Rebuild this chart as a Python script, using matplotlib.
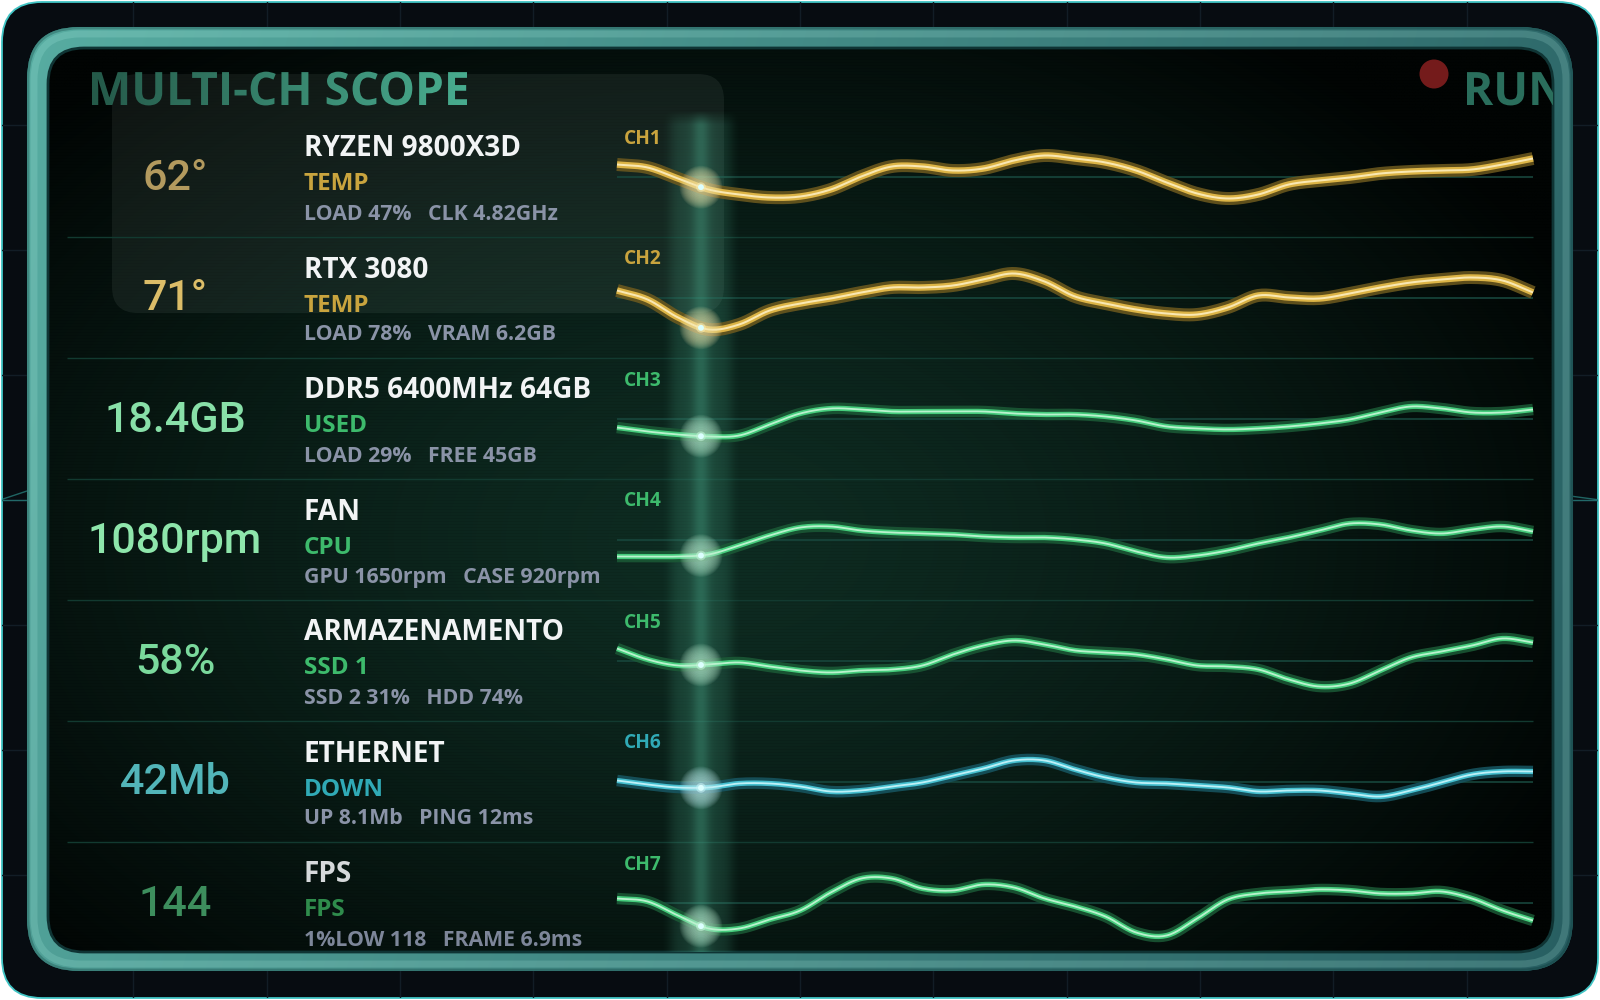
import numpy as np
import matplotlib
matplotlib.use("Agg")
import matplotlib.pyplot as plt
from matplotlib.patches import FancyBboxPatch, PathPatch, Circle
from matplotlib.textpath import TextPath
from matplotlib.font_manager import FontProperties
from matplotlib.transforms import Affine2D
from matplotlib.collections import LineCollection
from matplotlib.colors import to_rgb

# ---------------- data ----------------
TITLE = "MULTI-CH SCOPE"
STATUS = "RUN"
CHANNELS = ["CH1", "CH2", "CH3", "CH4", "CH5", "CH6", "CH7"]
READINGS = ["62°", "71°", "18.4GB", "1080rpm", "58%", "42Mb", "144"]
DEVICES = ["RYZEN 9800X3D", "RTX 3080", "DDR5 6400MHz 64GB", "FAN",
           "ARMAZENAMENTO", "ETHERNET", "FPS"]
METRICS = ["TEMP", "TEMP", "USED", "CPU", "SSD 1", "DOWN", "FPS"]
DETAIL_A = ["LOAD 47%", "LOAD 78%", "LOAD 29%", "GPU 1650rpm",
            "SSD 2 31%", "UP 8.1Mb", "1%LOW 118"]
DETAIL_B = ["CLK 4.82GHz", "VRAM 6.2GB", "FREE 45GB", "CASE 920rpm",
            "HDD 74%", "PING 12ms", "FRAME 6.9ms"]
PALETTE = ["gold", "gold", "green", "green", "green", "cyan", "green"]

# waveform samples (31 equally spaced time steps, deviation from channel baseline)
CH1 = [12, 9, -2, -13, -18, -21, -20, -13, 0, 10, 10, 6, 8, 16, 21, 18,
       14, 6, -6, -17, -22, -18, -8, -4, -1, 3, 5, 6, 7, 12, 18]
CH2 = [7, -2, -20, -32, -27, -13, -6, -1, 5, 10, 10, 12, 18, 24, 16, 1,
       -6, -12, -16, -17, -10, 2, 0, -1, 4, 10, 15, 18, 20, 17, 5]
CH3 = [-9, -13, -16, -18, -17, -6, 5, 10, 9, 7, 7, 7, 7, 5, 4, 4,
       2, -2, -8, -10, -11, -10, -8, -5, -1, 6, 12, 10, 6, 6, 9]
CH4 = [-17, -17, -17, -15, -6, 4, 12, 13, 9, 7, 6, 5, 3, 2, 2, 0,
       -4, -12, -18, -16, -11, -4, 2, 9, 16, 15, 9, 6, 10, 13, 8]
CH5 = [12, 1, -5, -4, -2, -6, -10, -12, -10, -9, -5, 6, 15, 20, 16, 10,
       8, 6, 1, -5, -6, -9, -19, -26, -23, -10, 3, 9, 15, 22, 18]
CH6 = [1, -3, -6, -6, -2, -2, -5, -10, -9, -5, -1, 6, 13, 21, 21, 12,
       4, -1, -2, -4, -6, -10, -9, -9, -12, -15, -9, -1, 7, 10, 10]
CH7 = [4, 1, -13, -26, -26, -17, -8, 10, 24, 24, 14, 12, 18, 15, 4, -4,
       -14, -30, -33, -16, 3, 9, 11, 13, 12, 9, 9, 11, 4, -8, -18]
TRACES = [CH1, CH2, CH3, CH4, CH5, CH6, CH7]
CURSOR_T = 2.75

# ---------------- style ----------------
W, H = 1600, 1000
ROW_TOP, ROW_H = 116, 121
TX0, TX1 = 617, 1533
STYLE = {
    "gold":  dict(outer="#6e5a1e", main="#dcb446", core="#fdeec0", glow="#f6eab0", label="#c9a43e", w=(13, 6.5, 2.0)),
    "green": dict(outer="#1b5a36", main="#45cc7c", core="#c8f7d8", glow="#c4f4d8", label="#3dba6c", w=(11.5, 5.2, 1.8)),
    "cyan":  dict(outer="#175662", main="#45bfcf", core="#ccf6fb", glow="#c8f4f8", label="#30aab6", w=(11.5, 5.2, 1.8)),
}
VALUE_COLORS = ["#b39a5e", "#dcbd68", "#88e0a8", "#8ee6ab", "#7ad99c", "#52b5b9", "#3d8e5d"]
METRIC_COLORS = ["#c9a43e", "#c9a43e", "#3dba6c", "#3dba6c", "#3dba6c", "#30aab6", "#2f8c4c"]
NAME_COLORS = ["#f2f4f5"] * 6 + ["#d6d9db"]
DETAIL_COLORS = ["#8a93a7"] * 6 + ["#7d8699"]

LABEL_FONT = "Open Sans"
VALUE_FONT = "Roboto"
plt.rcParams["font.family"] = [LABEL_FONT, "DejaVu Sans"]

fig = plt.figure(figsize=(16, 10), dpi=100, facecolor="white")
ax = fig.add_axes([0, 0, 1, 1])
ax.set_xlim(0, W)
ax.set_ylim(H, 0)
ax.axis("off")


def rrect(x0, y0, x1, y1, r, **kw):
    return FancyBboxPatch((x0, y0), x1 - x0, y1 - y0,
                          boxstyle=f"round,pad=0,rounding_size={r}", **kw)


def grad_image(func, x0, x1, y0, y1, res, clip, z, interp="bilinear"):
    nx = max(2, int((x1 - x0) / res))
    ny = max(2, int((y1 - y0) / res))
    X, Y = np.meshgrid(np.linspace(x0, x1, nx), np.linspace(y0, y1, ny))
    img = func(X, Y)
    im = ax.imshow(img, extent=(x0, x1, y1, y0), origin="upper",
                   interpolation=interp, zorder=z, aspect="auto")
    if clip is not None:
        im.set_clip_path(clip)
    return im


def lerp_col(c0, c1, t):
    c0 = np.array(to_rgb(c0)); c1 = np.array(to_rgb(c1))
    t = np.clip(t, 0, 1)[..., None]
    return c0 * (1 - t) + c1 * t


# ---------------- outer card ----------------
card = rrect(2, 2, 1598, 998, 40, facecolor="#070c11", edgecolor="#40c4c4", lw=1.3, zorder=1)
ax.add_patch(card)
grid = []
for k in range(1, 12):
    x = k * W / 12
    grid.append([(x, 0), (x, H)])
for k in range(1, 8):
    y = k * H / 8
    grid.append([(0, y), (W, y)])
lc = LineCollection(grid, colors="#121d26", linewidths=1.0, zorder=1.2)
lc.set_clip_path(card)
ax.add_collection(lc)
deco = LineCollection([[(0, 500), (40, 500)], [(0, 500), (60, 480)],
                       [(1560, 500), (1600, 500)], [(1540, 492), (1600, 500)]],
                      colors="#2a8a86", linewidths=1.0, alpha=0.7, zorder=1.3)
deco.set_clip_path(card)
ax.add_collection(deco)

# ---------------- bezel ----------------
bez = rrect(27, 27, 1573, 971, 52, facecolor="#3a8a85", edgecolor="none", zorder=2)
ax.add_patch(bez)


def bezel_col(X, Y):
    t = (X - 27) / 1546 * 0.85 + (Y - 27) / 944 * 0.15
    return lerp_col("#57aca1", "#285f62", t)


grad_image(bezel_col, 27, 1573, 27, 971, 8, bez, 2.1)
ring = rrect(34, 34, 1566, 964, 46, facecolor="none", edgecolor=(0.75, 1, 0.95, 0.16), lw=5, zorder=2.2)
ax.add_patch(ring)
ring2 = rrect(28, 28, 1572, 970, 51, facecolor="none", edgecolor=(0, 0.15, 0.15, 0.25), lw=2, zorder=2.2)
ax.add_patch(ring2)

# ---------------- screen ----------------
scr = rrect(48, 48, 1553, 952, 36, facecolor="#03100b", edgecolor="none", zorder=3)
ax.add_patch(scr)


def screen_col(X, Y):
    d = np.sqrt(((X - 720) / 950) ** 2 + ((Y - 540) / 620) ** 2)
    t = np.clip(d, 0, 1) ** 1.4
    return lerp_col("#0e2c22", "#010403", t)


grad_image(screen_col, 48, 1553, 48, 952, 6, scr, 3.1)
scan = [[(48, y), (1553, y)] for y in np.arange(50, 952, 3)]
sl = LineCollection(scan, colors="black", linewidths=0.5, alpha=0.10, zorder=3.2)
sl.set_clip_path(scr)
ax.add_collection(sl)
scr_edge = rrect(48, 48, 1553, 952, 36, facecolor="none", edgecolor="#0f3434", lw=2, zorder=3.3)
ax.add_patch(scr_edge)

# translucent info panel
panel = rrect(112, 74, 724, 313, 26, facecolor=(0.85, 0.95, 0.9, 0.065), edgecolor="none", zorder=3.5)
ax.add_patch(panel)

# row separators and channel baselines
seps = [[(67, ROW_TOP + i * ROW_H), (TX1, ROW_TOP + i * ROW_H)] for i in range(1, 7)]
ax.add_collection(LineCollection(seps, colors="#123a30", linewidths=1.0, zorder=4))
bases = [[(TX0, ROW_TOP + (i + 0.5) * ROW_H), (TX1, ROW_TOP + (i + 0.5) * ROW_H)] for i in range(7)]
ax.add_collection(LineCollection(bases, colors="#17463c", linewidths=1.2, zorder=4))

# cursor band
cur_x = TX0 + CURSOR_T / (len(CH1) - 1) * (TX1 - TX0)


def band_rgba(X, Y):
    dx = X - cur_x
    a = 0.22 * np.exp(-(dx / 32) ** 6) + 0.26 * np.exp(-(dx / 9) ** 2)
    a = a * np.clip((Y - 110) / 14, 0, 1)
    rgba = np.zeros(X.shape + (4,))
    rgba[..., 0] = 0.30; rgba[..., 1] = 0.68; rgba[..., 2] = 0.56
    rgba[..., 3] = a
    return rgba


grad_image(band_rgba, cur_x - 44, cur_x + 44, 110, 952, 1.5, scr, 4.5)

# ---------------- title & status ----------------
tfp = FontProperties(family=LABEL_FONT, weight="bold")
tp = TextPath((0, 0), TITLE, size=50, prop=tfp)
bb = tp.get_extents()
sc = 375 / bb.width
tr = Affine2D().translate(-bb.x0, 0).scale(sc, -sc).translate(92, 105)
tpath = tr.transform_path(tp)
tpatch = PathPatch(tpath, facecolor="none", edgecolor="none", transform=ax.transData)


def title_rgba(X, Y):
    t = (X - 92) / 375
    c = lerp_col("#275f4e", "#4cb596", t)
    return np.concatenate([c, np.full(X.shape + (1,), 0.95)], axis=-1)


grad_image(title_rgba, 88, 472, 55, 118, 2, tpatch, 5)

rp = TextPath((0, 0), STATUS, size=50, prop=tfp)
rb = rp.get_extents()
rpath = Affine2D().translate(-rb.x0, 0).scale(sc, -sc).translate(1467, 105).transform_path(rp)
rpatch = PathPatch(rpath, facecolor="#2a6e5c", edgecolor="none", zorder=5)
ax.add_patch(rpatch)
rpatch.set_clip_path(scr)
ax.add_patch(Circle((1434, 74), 14.5, facecolor="#741b1b", edgecolor="none", zorder=5))

# ---------------- rows ----------------
PT = 72 / 100  # points per pixel


def smooth(vals, n=16):
    p = np.asarray(vals, float)
    P = np.concatenate([[2 * p[0] - p[1]], p, [2 * p[-1] - p[-2]]])
    xs, ys = [], []
    t = np.linspace(0, 1, n, endpoint=False)
    for i in range(len(p) - 1):
        p0, p1, p2, p3 = P[i], P[i + 1], P[i + 2], P[i + 3]
        y = 0.5 * (2 * p1 + (-p0 + p2) * t + (2 * p0 - 5 * p1 + 4 * p2 - p3) * t ** 2
                   + (-p0 + 3 * p1 - 3 * p2 + p3) * t ** 3)
        xs.append(i + t); ys.append(y)
    xs.append([len(p) - 1]); ys.append([p[-1]])
    return np.concatenate(xs), np.concatenate(ys)


GLOW_SIZES = np.linspace(950, 40, 14)

for i in range(7):
    cy = ROW_TOP + (i + 0.5) * ROW_H
    st = STYLE[PALETTE[i]]
    # left column texts
    ax.text(175, cy + 13, READINGS[i], fontsize=31, family=[VALUE_FONT, "DejaVu Sans"],
            fontweight="medium", color=VALUE_COLORS[i], ha="center", va="baseline", zorder=6)
    ax.text(304, cy - 20, DEVICES[i], fontsize=20.2, fontweight="bold",
            color=NAME_COLORS[i], ha="left", va="baseline", zorder=6)
    ax.text(304, cy + 14, METRICS[i], fontsize=17.5, fontweight="bold",
            color=METRIC_COLORS[i], ha="left", va="baseline", zorder=6)
    ax.text(304, cy + 43, DETAIL_A[i] + "   " + DETAIL_B[i], fontsize=15.3, fontweight="bold",
            color=DETAIL_COLORS[i], ha="left", va="baseline", zorder=6)
    ax.text(624, cy - 33, CHANNELS[i], fontsize=13.8, fontweight="bold",
            color=st["label"], ha="left", va="baseline", zorder=6)

    # waveform axes
    tax = fig.add_axes([TX0 / W, 1 - (cy + 60) / H, (TX1 - TX0) / W, 120 / H])
    tax.set_xlim(0, len(TRACES[i]) - 1)
    tax.set_ylim(-60, 60)
    tax.axis("off")
    tax.patch.set_alpha(0)
    xs, ys = smooth(TRACES[i])
    wo, wm, wc = st["w"]
    tax.plot(xs, ys, color=st["outer"], lw=wo * PT, alpha=0.85, solid_capstyle="butt", clip_on=False)
    tax.plot(xs, ys, color=st["main"], lw=wm * PT, solid_capstyle="butt", clip_on=False)
    tax.plot(xs, ys, color=st["core"], lw=wc * PT, alpha=0.9, solid_capstyle="butt", clip_on=False)
    cyv = np.interp(CURSOR_T, xs, ys)
    tax.scatter([CURSOR_T] * len(GLOW_SIZES), [cyv] * len(GLOW_SIZES), s=GLOW_SIZES,
                color=st["glow"], alpha=0.07, edgecolors="none", clip_on=False, zorder=5)
    tax.scatter([CURSOR_T], [cyv], s=50, color=st["glow"], alpha=0.55, edgecolors="none", clip_on=False, zorder=5)
    tax.scatter([CURSOR_T], [cyv], s=18, color="#dcffff", edgecolors="none", clip_on=False, zorder=6)

fig.savefig("out.png", dpi=100, facecolor="white")
